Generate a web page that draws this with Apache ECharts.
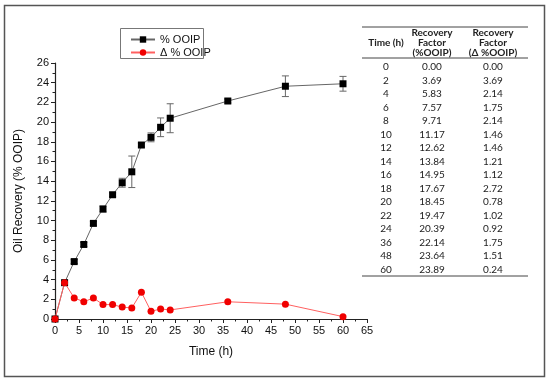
<!DOCTYPE html>
<html><head><meta charset="utf-8">
<script src="https://cdn.jsdelivr.net/npm/echarts@6/dist/echarts.min.js"></script>
<style>html,body{margin:0;padding:0;background:#fff}#c{width:550px;height:383px}</style>
</head><body><div id="c"></div>
<script>
const timeH = [0, 2, 4, 6, 8, 10, 12, 14, 16, 18, 20, 22, 24, 36, 48, 60];
const ooip = [0.00, 3.69, 5.83, 7.57, 9.71, 11.17, 12.62, 13.84, 14.95, 17.67, 18.45, 19.47, 20.39, 22.14, 23.64, 23.89];
const deltaOoip = [0.00, 3.69, 2.14, 1.75, 2.14, 1.46, 1.46, 1.21, 1.12, 2.72, 0.78, 1.02, 0.92, 1.75, 1.51, 0.24];
const ooipErr = [0, 0, 0.2, 0.2, 0.2, 0.3, 0.2, 0.45, 1.6, 0.2, 0.45, 0.95, 1.47, 0.2, 1.05, 0.75];
const xTicks = [0, 65, 5];
const yTicks = [0, 26, 2];
const tableHeaders = [["Time (h)"], ["Recovery", "Factor", "(%OOIP)"], ["Recovery", "Factor", "(Δ %OOIP)"]];

const chart = echarts.init(document.getElementById('c'));
const font = '"Liberation Sans", Arial, sans-serif';
const tfont = 'Lato, "Open Sans", "Liberation Sans", sans-serif';

const graphics = [];
graphics.push({type:'rect', shape:{x:4.5,y:5.5,width:540,height:371}, style:{fill:null, stroke:'#555', lineWidth:1.5}, silent:true});
const tx0 = 362, tx1 = 528;
graphics.push({type:'line', shape:{x1:tx0,y1:27,x2:tx1,y2:27}, style:{stroke:'#444', lineWidth:1}});
graphics.push({type:'line', shape:{x1:tx0,y1:58,x2:tx1,y2:58}, style:{stroke:'#444', lineWidth:1}});
graphics.push({type:'line', shape:{x1:tx0,y1:276,x2:tx1,y2:276}, style:{stroke:'#444', lineWidth:1}});
const colX = [386, 432, 493];
tableHeaders.forEach((h, ci) => {
  const n = h.length;
  h.forEach((t, li) => {
    const y = n === 1 ? 43 : 33 + li * 10;
    graphics.push({type:'text', style:{text:t, x:colX[ci], y:y, align:'center', verticalAlign:'middle', font:'bold 10px ' + tfont, fill:'#222'}});
  });
});
timeH.forEach((t, i) => {
  const y = 67 + i * 13.5;
  const vals = [String(t), ooip[i].toFixed(2), deltaOoip[i].toFixed(2)];
  vals.forEach((v, ci) => {
    graphics.push({type:'text', style:{text:v, x:colX[ci], y:y, align:'center', verticalAlign:'middle', font:'10px ' + tfont, fill:'#222'}});
  });
});
graphics.push({type:'rect', z:-1, shape:{x:120.5,y:28.5,width:83,height:30}, style:{fill:'#fff', stroke:'#777', lineWidth:1}});

chart.setOption({
  animation:false,
  backgroundColor:'#fff',
  grid:{left:55, right:183, top:63, bottom:64},
  legend:{
    left:125, top:29, orient:'vertical', itemGap:2, itemWidth:24, itemHeight:8,
    textStyle:{fontFamily:font, fontSize:11, color:'#111'},
    data:['% OOIP', 'Δ % OOIP']
  },
  xAxis:{
    type:'value', min:xTicks[0], max:xTicks[1], interval:xTicks[2],
    name:'Time (h)', nameLocation:'middle', nameGap:27,
    nameTextStyle:{fontFamily:font, fontSize:12, color:'#111'},
    axisLine:{lineStyle:{color:'#222', width:1.2}},
    axisTick:{length:4, lineStyle:{color:'#222'}},
    minorTick:{show:true, splitNumber:2, length:2.5, lineStyle:{color:'#222'}},
    axisLabel:{fontFamily:font, fontSize:11, color:'#111', margin:6},
    splitLine:{show:false}
  },
  yAxis:{
    type:'value', min:yTicks[0], max:yTicks[1], interval:yTicks[2],
    name:'Oil Recovery (% OOIP)', nameLocation:'middle', nameGap:30,
    nameTextStyle:{fontFamily:font, fontSize:12, color:'#111'},
    axisLine:{show:true, lineStyle:{color:'#222', width:1.2}},
    axisTick:{show:true, length:4, lineStyle:{color:'#222'}},
    minorTick:{show:true, splitNumber:2, length:2.5, lineStyle:{color:'#222'}},
    axisLabel:{fontFamily:font, fontSize:11, color:'#111', margin:6},
    splitLine:{show:false}
  },
  graphic: graphics,
  series:[
    {
      name:'% OOIP', type:'line', data: timeH.map((t,i)=>[t, ooip[i]]),
      symbol:'rect', symbolSize:7, itemStyle:{color:'#000'},
      lineStyle:{color:'#666', width:1}, z:3
    },
    {
      name:'err', type:'custom', z:2,
      data: timeH.map((t,i)=>[t, ooip[i]-ooipErr[i], ooip[i]+ooipErr[i]]),
      renderItem:(params, api)=>{
        const lo = api.coord([api.value(0), api.value(1)]);
        const hi = api.coord([api.value(0), api.value(2)]);
        if (Math.abs(hi[1]-lo[1]) < 1) return null;
        const w = 3.5;
        const st = {stroke:'#666', lineWidth:1};
        return {type:'group', children:[
          {type:'line', shape:{x1:lo[0],y1:lo[1],x2:hi[0],y2:hi[1]}, style:st},
          {type:'line', shape:{x1:lo[0]-w,y1:lo[1],x2:lo[0]+w,y2:lo[1]}, style:st},
          {type:'line', shape:{x1:hi[0]-w,y1:hi[1],x2:hi[0]+w,y2:hi[1]}, style:st}
        ]};
      }
    },
    {
      name:'Δ % OOIP', type:'line', data: timeH.map((t,i)=>[t, deltaOoip[i]]),
      symbol:'circle', symbolSize:7, itemStyle:{color:'#f00000'},
      lineStyle:{color:'#ff6060', width:1}, z:3
    }
  ]
});
</script></body></html>
